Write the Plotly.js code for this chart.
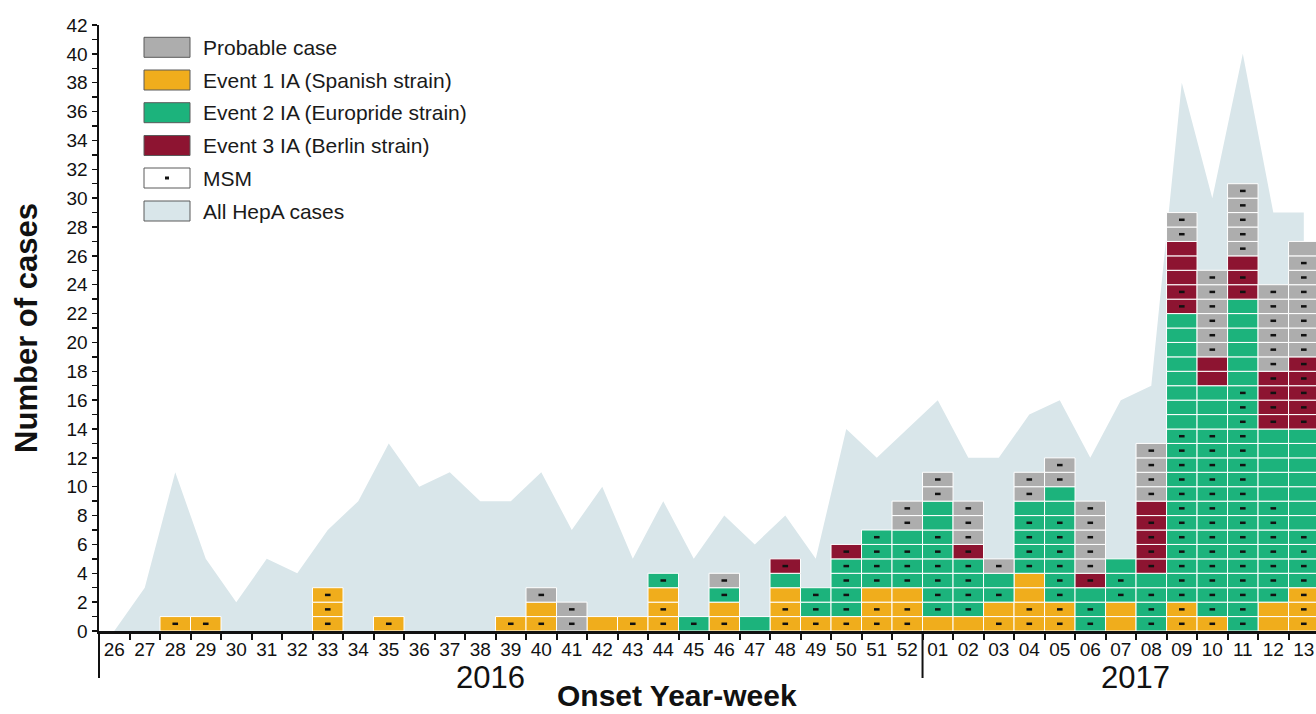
<!DOCTYPE html>
<html>
<head>
<meta charset="utf-8">
<script src="https://cdn.plot.ly/plotly-3.0.1.min.js"></script>
<style>
  html, body { margin: 0; padding: 0; background: #ffffff; }
  #chart { width: 1316px; height: 714px; }
</style>
</head>
<body>
<div id="chart"></div>
<script>
// ---- Data ----
const weeks = ["26","27","28","29","30","31","32","33","34","35","36","37","38","39","40","41","42","43","44","45","46","47","48","49","50","51","52",
               "01","02","03","04","05","06","07","08","09","10","11","12","13"];

// All HepA cases (area)
const allHepA = [0,3,11,5,2,5,4,7,9,13,10,11,9,9,11,7,10,5,9,5,8,6,8,5,14,12,14,
                 16,12,12,15,16,12,16,17,38,30,40,29,29];

// Event 1 IA (Spanish strain)
const event1    = [0,0,1,1,0,0,0,3,0,1,0,0,0,1,2,0,1,1,3,0,2,0,3,1,1,3,3,
                   1,1,2,4,2,0,2,0,2,1,0,2,3];
const event1Msm = [0,0,1,1,0,0,0,3,0,1,0,0,0,1,1,0,0,1,2,0,1,0,2,1,1,2,2,
                   0,0,1,2,2,0,0,0,2,1,0,0,3];

// Event 2 IA (Europride strain)
const event2    = [0,0,0,0,0,0,0,0,0,0,0,0,0,0,0,0,0,0,1,1,1,1,1,2,4,4,4,
                   8,4,2,5,8,3,3,4,20,16,23,12,11];
const event2Msm = [0,0,0,0,0,0,0,0,0,0,0,0,0,0,0,0,0,0,1,1,1,0,0,2,4,4,3,
                   6,4,1,4,6,2,2,3,12,13,17,7,4];

// Event 3 IA (Berlin strain)
const event3    = [0,0,0,0,0,0,0,0,0,0,0,0,0,0,0,0,0,0,0,0,0,0,1,0,1,0,0,
                   0,1,0,0,0,1,0,5,5,2,3,4,5];
const event3Msm = [0,0,0,0,0,0,0,0,0,0,0,0,0,0,0,0,0,0,0,0,0,0,1,0,1,0,0,
                   0,1,0,0,0,1,0,4,2,0,2,4,5];

// Probable case
const probable    = [0,0,0,0,0,0,0,0,0,0,0,0,0,0,1,2,0,0,0,0,1,0,0,0,0,0,2,
                     2,3,1,2,2,5,0,4,2,6,5,6,8];
const probableMsm = [0,0,0,0,0,0,0,0,0,0,0,0,0,0,1,2,0,0,0,0,1,0,0,0,0,0,2,
                     2,3,1,2,2,5,0,4,2,6,5,6,7];

const yearLabels = ["2016", "2017"];
const legendLabels = ["Probable case", "Event 1 IA (Spanish strain)", "Event 2 IA (Europride strain)",
                      "Event 3 IA (Berlin strain)", "MSM", "All HepA cases"];

// ---- Styles ----
const colors = {
  probable: "#adadad",
  event1: "#f0ad1c",
  event2: "#1cb37c",
  event3: "#8d1431",
  msm: "#ffffff",
  area: "#d9e6ea"
};
const FONT = "Liberation Sans, Arial, Helvetica, sans-serif";

// ---- Build cell-level bars (each case is one cell) ----
const segments = [
  {counts: event1, msm: event1Msm, color: colors.event1, name: legendLabels[1]},
  {counts: event2, msm: event2Msm, color: colors.event2, name: legendLabels[2]},
  {counts: event3, msm: event3Msm, color: colors.event3, name: legendLabels[3]},
  {counts: probable, msm: probableMsm, color: colors.probable, name: legendLabels[0]}
];

const cum = weeks.map(() => 0);
const traces = [];

traces.push({
  type: "scatter", mode: "lines", x: weeks, y: allHepA,
  fill: "tozeroy", fillcolor: colors.area, line: {width: 0, color: colors.area},
  xaxis: "x", yaxis: "y", name: legendLabels[5], showlegend: false, hoverinfo: "x+y"
});

const dotX = [], dotY = [];
segments.forEach(seg => {
  const bx = [], bbase = [], by = [];
  weeks.forEach((w, i) => {
    for (let k = 0; k < seg.counts[i]; k++) {
      bx.push(w); bbase.push(cum[i] + k); by.push(1);
      if (k < seg.msm[i]) { dotX.push(w); dotY.push(cum[i] + k + 0.5); }
    }
    cum[i] += seg.counts[i];
  });
  traces.push({
    type: "bar", x: bx, y: by, base: bbase, name: seg.name,
    marker: {color: seg.color, line: {color: "#ffffff", width: 1}},
    xaxis: "x2", yaxis: "y2", showlegend: false, hoverinfo: "x+name"
  });
});

traces.push({
  type: "scatter", mode: "markers", x: dotX, y: dotY, name: "MSM",
  marker: {symbol: "line-ew", size: 4, color: "#111", line: {color: "#111", width: 2.5}},
  xaxis: "x2", yaxis: "y2", showlegend: false, hoverinfo: "skip"
});

// ---- Layout geometry helpers (pixels -> paper) ----
const ML = 99, MR = 0, MT = 25, MB = 83, W = 1316, H = 714;
const PW = W - ML - MR, PH = H - MT - MB;
const px = v => (v - ML) / PW;
const py = v => (H - MB - v) / PH;
const XR = [-0.5, 39.4];
const catPaper = c => (c - XR[0]) / (XR[1] - XR[0]);

const shapes = [];
const annotations = [];

// year bracket lines
shapes.push({type: "line", xref: "paper", yref: "paper", x0: 0, x1: 0, y0: 0, y1: py(678),
             line: {color: "#111", width: 2}});
shapes.push({type: "line", xref: "paper", yref: "paper", x0: catPaper(26.5), x1: catPaper(26.5), y0: 0, y1: py(678),
             line: {color: "#111", width: 2}});

annotations.push({xref: "paper", yref: "paper", x: px(490), y: py(677), text: yearLabels[0], showarrow: false,
                  xanchor: "center", yanchor: "middle", font: {family: FONT, size: 31, color: "#111"}});
annotations.push({xref: "paper", yref: "paper", x: px(1135), y: py(677), text: yearLabels[1], showarrow: false,
                  xanchor: "center", yanchor: "middle", font: {family: FONT, size: 31, color: "#111"}});
annotations.push({xref: "paper", yref: "paper", x: px(677), y: py(713), text: "Onset Year-week", showarrow: false,
                  xanchor: "center", yanchor: "bottom", borderpad: 0,
                  font: {family: FONT, size: 30, color: "#111", weight: "bold"}});

// custom legend
const legendColors = [colors.probable, colors.event1, colors.event2, colors.event3, colors.msm, colors.area];
const legendCenters = [47.3, 80, 112.7, 145.5, 178, 211];
legendLabels.forEach((lab, i) => {
  const cy = legendCenters[i];
  shapes.push({type: "rect", xref: "paper", yref: "paper", x0: px(144), x1: px(190), y0: py(cy + 10), y1: py(cy - 10),
               fillcolor: legendColors[i], line: {color: "#5a5a5a", width: 1}, layer: "above"});
  if (lab === "MSM") {
    shapes.push({type: "rect", xref: "paper", yref: "paper", x0: px(165), x1: px(169), y0: py(cy + 1.5), y1: py(cy - 1.5),
                 fillcolor: "#111", line: {width: 0}, layer: "above"});
  }
  annotations.push({xref: "paper", yref: "paper", x: px(201), y: py(cy), text: lab, showarrow: false,
                    xanchor: "left", yanchor: "middle", font: {family: FONT, size: 21, color: "#1a1a1a"}});
});

const layout = {
  width: W, height: H,
  margin: {l: ML, r: MR, t: MT, b: MB, pad: 0},
  paper_bgcolor: "#ffffff", plot_bgcolor: "rgba(0,0,0,0)",
  font: {family: FONT, color: "#111"},
  showlegend: false,
  barmode: "overlay", bargap: 0,
  xaxis: {
    type: "category", categoryorder: "array", categoryarray: weeks, range: XR,
    showline: true, linecolor: "#111", linewidth: 2.5,
    ticks: "outside", tickson: "boundaries", ticklen: 6, tickwidth: 2, tickcolor: "#111",
    tickangle: 0,
    tickfont: {family: FONT, size: 19, color: "#111"},
    showgrid: false, zeroline: false, fixedrange: true
  },
  yaxis: {
    range: [0, 42], tick0: 0, dtick: 2,
    showline: true, linecolor: "#111", linewidth: 2.5,
    ticks: "outside", ticklen: 5, tickwidth: 1.5, tickcolor: "#111",
    minor: {dtick: 1, ticks: "outside", ticklen: 5, tickwidth: 1.5, tickcolor: "#111", showgrid: false},
    tickfont: {family: FONT, size: 19, color: "#111"},
    title: {text: "Number of cases", font: {family: FONT, size: 31, color: "#111", weight: "bold"}, standoff: 20},
    showgrid: false, zeroline: false, fixedrange: true
  },
  xaxis2: {type: "category", categoryorder: "array", categoryarray: weeks, range: XR,
           overlaying: "x", visible: false, fixedrange: true},
  yaxis2: {range: [0, 42], overlaying: "y", visible: false, fixedrange: true},
  shapes: shapes,
  annotations: annotations
};

Plotly.newPlot("chart", traces, layout, {displayModeBar: false, staticPlot: true});
</script>
</body>
</html>
